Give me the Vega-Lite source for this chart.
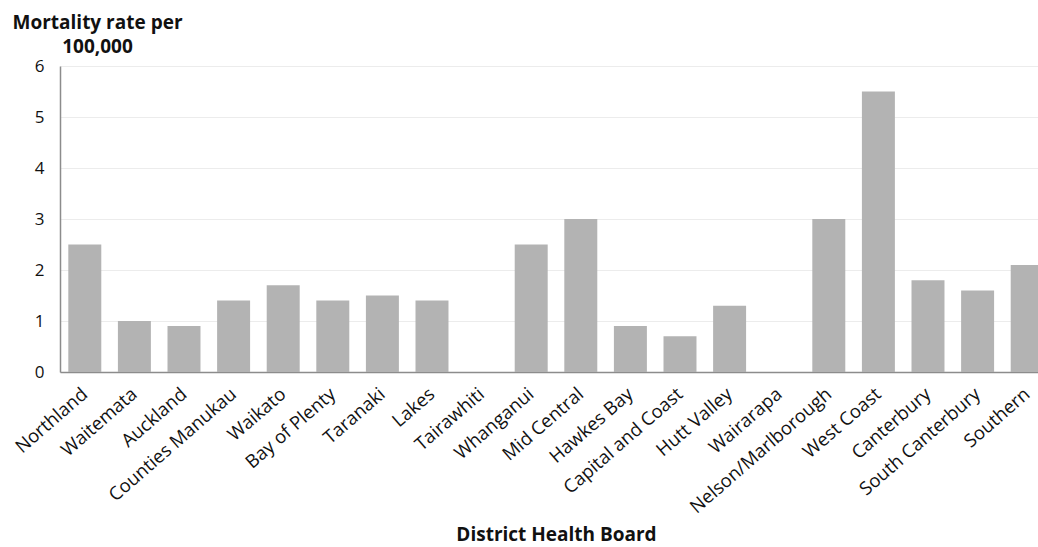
{
  "$schema": "https://vega.github.io/schema/vega-lite/v6.json",
  "autosize": {"type": "none"},
  "padding": {"left": 60, "top": 66, "right": 0, "bottom": 175},
  "width": 978,
  "height": 306,
  "background": "white",
  "config": {
    "view": {"stroke": null},
    "font": "Open Sans"
  },
  "data": {
    "values": [
      {"dhb": "Northland", "rate": 2.5},
      {"dhb": "Waitemata", "rate": 1.0},
      {"dhb": "Auckland", "rate": 0.9},
      {"dhb": "Counties Manukau", "rate": 1.4},
      {"dhb": "Waikato", "rate": 1.7},
      {"dhb": "Bay of Plenty", "rate": 1.4},
      {"dhb": "Taranaki", "rate": 1.5},
      {"dhb": "Lakes", "rate": 1.4},
      {"dhb": "Tairawhiti", "rate": 0},
      {"dhb": "Whanganui", "rate": 2.5},
      {"dhb": "Mid Central", "rate": 3.0},
      {"dhb": "Hawkes Bay", "rate": 0.9},
      {"dhb": "Capital and Coast", "rate": 0.7},
      {"dhb": "Hutt Valley", "rate": 1.3},
      {"dhb": "Wairarapa", "rate": 0},
      {"dhb": "Nelson/Marlborough", "rate": 3.0},
      {"dhb": "West Coast", "rate": 5.5},
      {"dhb": "Canterbury", "rate": 1.8},
      {"dhb": "South Canterbury", "rate": 1.6},
      {"dhb": "Southern", "rate": 2.1}
    ]
  },
  "mark": {"type": "bar", "color": "#b3b3b3"},
  "encoding": {
    "x": {
      "field": "dhb",
      "type": "nominal",
      "sort": null,
      "scale": {"range": [0, 992], "paddingInner": 0.335, "paddingOuter": 0.1675},
      "axis": {
        "title": "District Health Board",
        "titleFontSize": 19,
        "titleFontWeight": "bold",
        "titleColor": "#111",
        "titleX": 496,
        "titleY": 168,
        "titleBaseline": "alphabetic",
        "labelAngle": -41,
        "labelAlign": "right",
        "labelBaseline": "middle",
        "labelFontSize": 18.5,
        "labelColor": "#111",
        "labelPadding": 19,
        "labelOverlap": false,
        "labelLimit": 300,
        "ticks": false,
        "domainColor": "#8c8c8c",
        "domainWidth": 1.5
      }
    },
    "y": {
      "field": "rate",
      "type": "quantitative",
      "scale": {"domain": [0, 6], "nice": false},
      "axis": {
        "title": ["Mortality rate per", "100,000"],
        "titleAngle": 0,
        "titleAlign": "center",
        "titleBaseline": "alphabetic",
        "titleX": 37,
        "titleY": -38,
        "titleLineHeight": 24,
        "titleFontSize": 19,
        "titleFontWeight": "bold",
        "titleColor": "#111",
        "values": [0, 1, 2, 3, 4, 5, 6],
        "labelFontSize": 17,
        "labelColor": "#111",
        "labelPadding": 16,
        "ticks": false,
        "domainColor": "#8c8c8c",
        "domainWidth": 1.5,
        "grid": true,
        "gridColor": "#ececec",
        "gridWidth": 1
      }
    }
  }
}
